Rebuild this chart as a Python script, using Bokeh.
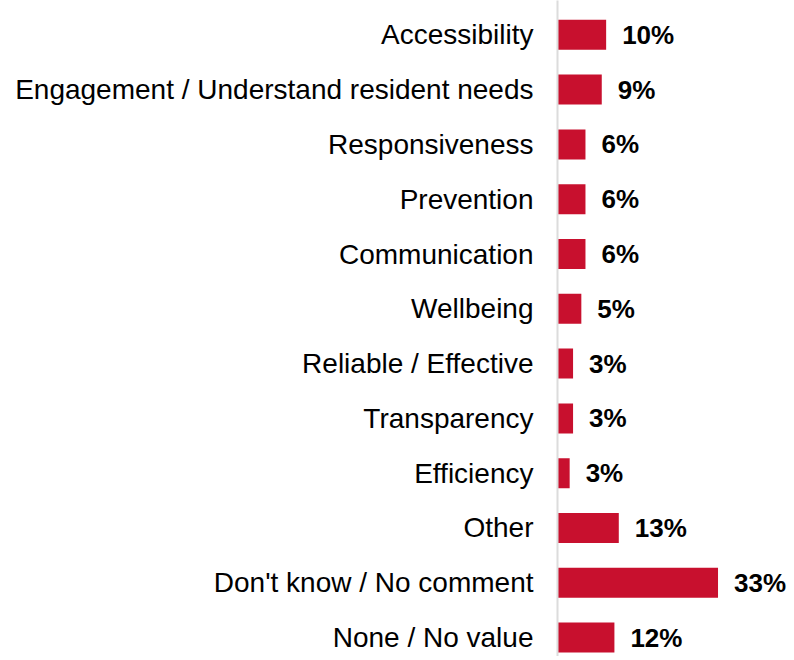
from bokeh.plotting import figure
from bokeh.models import ColumnDataSource, Range1d, FixedTicker
from bokeh.core.properties import value
from bokeh.embed import file_html
from bokeh.resources import INLINE

categories = [
    "Accessibility",
    "Engagement / Understand resident needs",
    "Responsiveness",
    "Prevention",
    "Communication",
    "Wellbeing",
    "Reliable / Effective",
    "Transparency",
    "Efficiency",
    "Other",
    "Don't know / No comment",
    "None / No value",
]
values = [10.0, 9.1, 5.75, 5.75, 5.75, 4.9, 3.2, 3.2, 2.5, 12.6, 33.0, 11.7]
labels = ["10%", "9%", "6%", "6%", "6%", "5%", "3%", "3%", "3%", "13%", "33%", "12%"]

pos = list(range(len(categories)))
src = ColumnDataSource(dict(y=pos, v=values, lab=labels))

p = figure(
    width=790, height=656,
    output_backend="svg", toolbar_location=None,
    x_range=Range1d(0, 47.9),
    y_range=Range1d(start=11.345, end=-0.626),
    min_border_left=557, min_border_right=0,
    min_border_top=0, min_border_bottom=0,
)
p.xaxis.visible = False
p.grid.visible = False
p.outline_line_color = None
p.background_fill_color = "white"
p.border_fill_color = "white"

p.hbar(y="y", left=0, right="v", height=0.547, source=src,
       fill_color="#C8102E", line_color=None)

p.text(x="v", y="y", text="lab", source=src,
       x_offset=16, text_align="left", text_baseline="middle",
       text_font=value("Liberation Sans"), text_font_style="bold",
       text_font_size="26px", text_color="#000000")

ya = p.yaxis[0]
ya.ticker = FixedTicker(ticks=pos)
ya.major_label_overrides = {i: c for i, c in zip(pos, categories)}
ya.major_label_text_font = "Liberation Sans"
ya.major_label_text_font_size = "28px"
ya.major_label_text_color = "#000000"
ya.major_label_standoff = 24
ya.major_tick_out = 0
ya.major_tick_in = 0
ya.minor_tick_out = 0
ya.minor_tick_in = 0
ya.axis_line_color = "#dcdcdc"
ya.axis_line_width = 2

open("out.html", "w").write(file_html(p, INLINE))
